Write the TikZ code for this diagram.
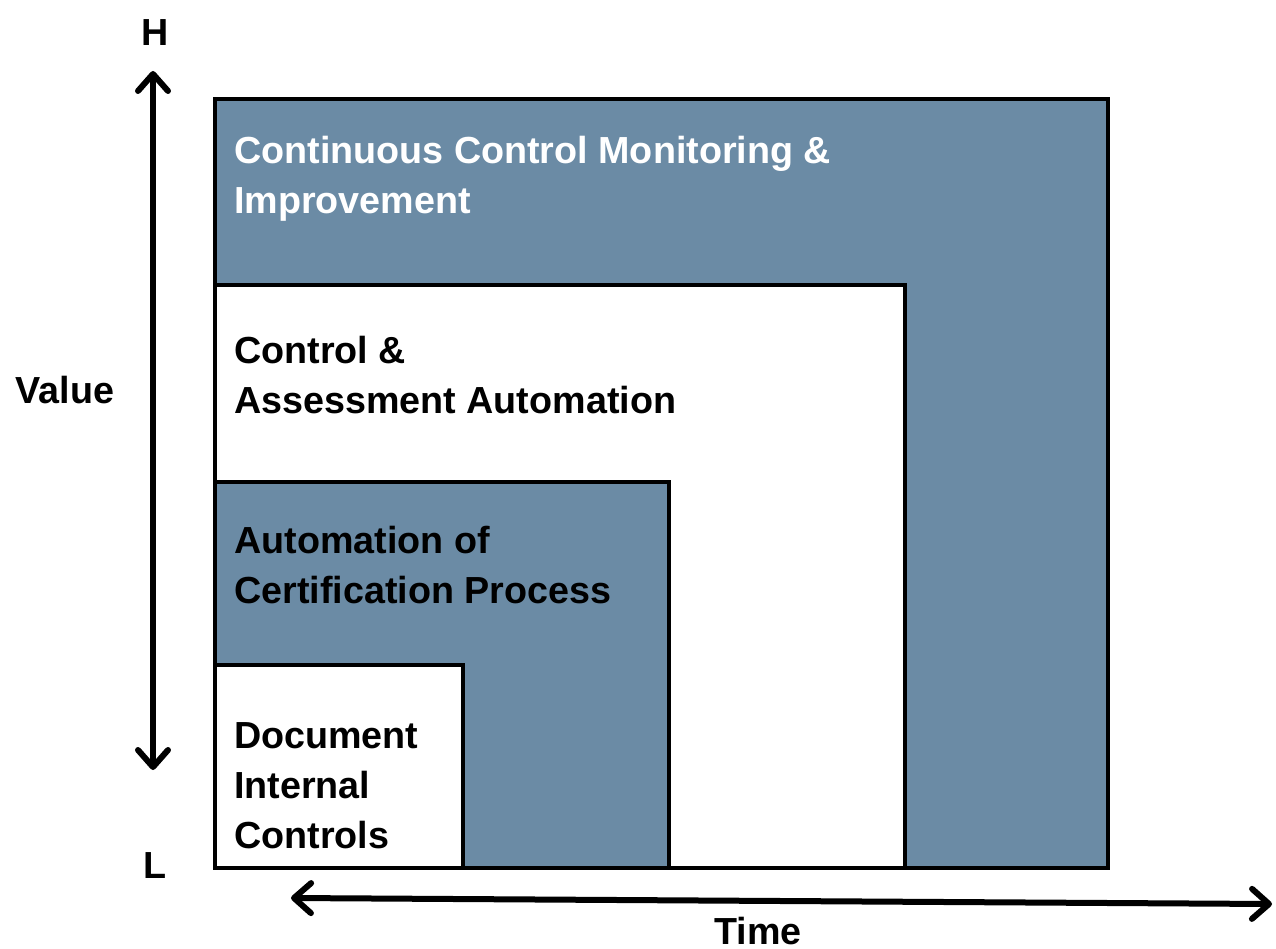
\documentclass[tikz,border=0pt]{standalone}
\usepackage{fontspec}
\setmainfont{Liberation Sans}
\usetikzlibrary{arrows.meta}
\definecolor{steel}{HTML}{6B8BA5}
\tikzset{
  band/.style={draw=black, line width=4pt, fill=#1},
  label/.style={font=\bfseries\fontsize{37.7}{50}\selectfont, inner sep=0pt, align=left, anchor=north west},
  axislabel/.style={font=\bfseries\fontsize{37.7}{50}\selectfont, inner sep=0pt},
  barb/.tip={Straight Barb[length=17pt,width=30pt,round]},
  axis/.style={line width=6pt, {barb}-{barb}}
}
\begin{document}
\begin{tikzpicture}[x=1pt,y=-1pt]
\useasboundingbox (0,0) rectangle (1276,949);
% nested stages, largest first
\draw[band=steel] (215,99) rectangle (1108,868);
\draw[band=white] (215,285) rectangle (905,868);
\draw[band=steel] (215,482) rectangle (669,868);
\draw[band=white] (215,665) rectangle (463,868);
% stage titles
\node[label, text=white] (s4) at (234,136) {Continuous Control Monitoring \&\\Improvement};
\node[label] (s3) at (234,336) {Control \&\\Assessment Automation};
\node[label] (s2) at (234,526) {Automation of\\Certification Process};
\node[label] (s1) at (234,722) {Document\\Internal\\Controls};
% axes
\node[axislabel] (hi) at (155,33) {H};
\node[axislabel] (lo) at (155,866) {L};
\node[axislabel] (val) at (65,390) {Value};
\node[axislabel] (time) at (758,931) {Time};
\coordinate (vtop) at (153,71);
\coordinate (vbot) at (153,770);
\coordinate (hl) at (291,898);
\coordinate (hr) at (1272,904);
\draw[axis] (vbot) -- (vtop);
\draw[axis] (hl) -- (hr);
\end{tikzpicture}
\end{document}
